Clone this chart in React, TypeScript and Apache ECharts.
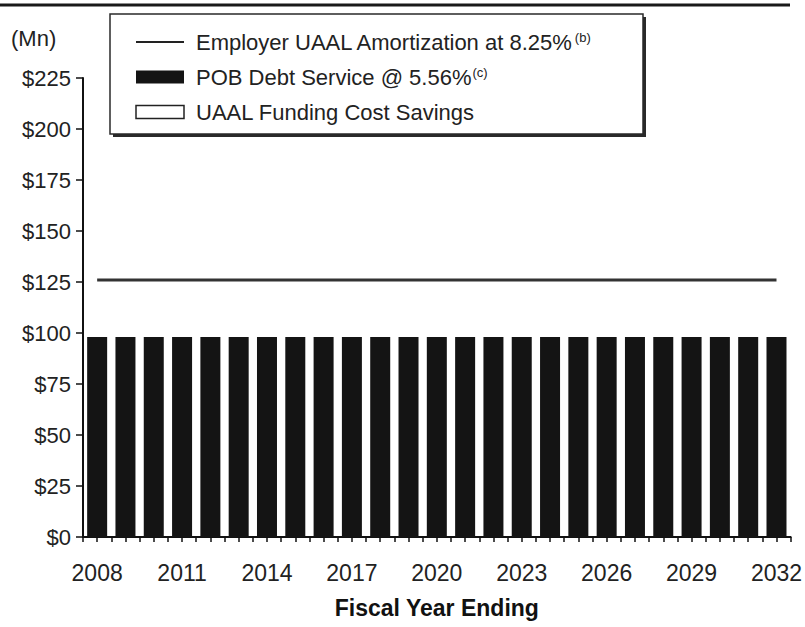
import React, { useEffect, useRef } from "react";
import * as echarts from "echarts";

const years = [
  "2008", "2009", "2010", "2011", "2012", "2013", "2014", "2015", "2016", "2017",
  "2018", "2019", "2020", "2021", "2022", "2023", "2024", "2025", "2026", "2027",
  "2028", "2029", "2030", "2031", "2032",
];

// Employer UAAL Amortization at 8.25% ($Mn)
const employerAmortization = [
  126, 126, 126, 126, 126, 126, 126, 126, 126, 126,
  126, 126, 126, 126, 126, 126, 126, 126, 126, 126,
  126, 126, 126, 126, 126,
];

// POB Debt Service @ 5.56% ($Mn)
const pobDebtService = [
  98, 98, 98, 98, 98, 98, 98, 98, 98, 98,
  98, 98, 98, 98, 98, 98, 98, 98, 98, 98,
  98, 98, 98, 98, 98,
];

// UAAL Funding Cost Savings ($Mn), stacked on top of debt service
const fundingSavings = [
  28, 28, 28, 28, 28, 28, 28, 28, 28, 28,
  28, 28, 28, 28, 28, 28, 28, 28, 28, 28,
  28, 28, 28, 28, 28,
];

const yTicks = [0, 25, 50, 75, 100, 125, 150, 175, 200, 225];

const NAME_LINE = "Employer UAAL Amortization at 8.25%";
const NAME_POB = "POB Debt Service @ 5.56%";
const NAME_SAV = "UAAL Funding Cost Savings";

const FONT = "'Liberation Sans', Arial, sans-serif";

export default function App() {
  const ref = useRef<HTMLDivElement>(null);

  useEffect(() => {
    document.body.style.margin = "0";
    if (!ref.current) return;
    const chart = echarts.init(ref.current, null, { renderer: "svg" });

    const option: any = {
      animation: false,
      backgroundColor: "#ffffff",
      textStyle: { fontFamily: FONT },
      grid: { left: 83, right: 10.5, top: 78, bottom: 90, containLabel: false },
      legend: {
        orient: "vertical",
        left: 135,
        top: 31,
        padding: 0,
        itemGap: 13,
        itemWidth: 48,
        itemHeight: 13,
        data: [
          {
            name: NAME_LINE,
            itemStyle: { color: "rgba(0,0,0,0)", borderWidth: 0, opacity: 0 },
            lineStyle: { color: "#222", width: 2 },
          },
          { name: NAME_POB, icon: "rect", itemStyle: { color: "#141414" } },
          {
            name: NAME_SAV,
            icon: "rect",
            itemStyle: { color: "#ffffff", borderColor: "#222", borderWidth: 1.5 },
          },
        ],
        formatter: (name: string) => {
          if (name === NAME_LINE) return `{a|${name}}{s|(b)}`;
          if (name === NAME_POB) return `{a|${name}}{s|(c)}`;
          return `{a|${name}}`;
        },
        textStyle: {
          padding: [0, 0, 0, 7],
          rich: {
            a: { fontSize: 22, lineHeight: 22, color: "#222", fontFamily: FONT },
            s: {
              fontSize: 13,
              lineHeight: 22,
              verticalAlign: "top",
              color: "#222",
              fontFamily: FONT,
              padding: [0, 0, 9, 1],
            },
          },
        },
      },
      xAxis: [
        {
          type: "category",
          data: years,
          boundaryGap: true,
          position: "bottom",
          axisLine: { show: true, lineStyle: { color: "#111", width: 2 } },
          axisTick: { show: true, interval: 0, length: 5, lineStyle: { color: "#111", width: 1.5 } },
          axisLabel: {
            interval: 2,
            margin: 24,
            fontSize: 23,
            color: "#222",
            fontFamily: FONT,
          },
          name: "Fiscal Year Ending",
          nameLocation: "middle",
          nameGap: 59,
          nameTextStyle: { fontSize: 23, fontWeight: "bold", color: "#111", fontFamily: FONT },
        },
        {
          type: "category",
          data: years,
          boundaryGap: true,
          position: "bottom",
          axisLine: { show: false },
          axisTick: { show: true, alignWithLabel: true, interval: 0, length: 5, lineStyle: { color: "#111", width: 1.5 } },
          axisLabel: { show: false },
        },
      ],
      yAxis: {
        type: "value",
        min: 0,
        max: 225,
        interval: 25,
        axisLine: { show: true, lineStyle: { color: "#111", width: 2 } },
        axisTick: { show: true, length: 7, lineStyle: { color: "#111", width: 1.5 } },
        splitLine: { show: false },
        axisLabel: {
          margin: 12,
          fontSize: 22,
          color: "#222",
          fontFamily: FONT,
          formatter: (v: number) => (yTicks.includes(v) ? `$${v}` : ""),
        },
      },
      graphic: [
        {
          type: "line",
          shape: { x1: 0, y1: 5, x2: 790, y2: 5 },
          style: { stroke: "#1a1a1a", lineWidth: 3 },
          z: 0,
        },
        {
          type: "text",
          left: 11,
          top: 27,
          style: { text: "(Mn)", fontSize: 22, fill: "#222", fontFamily: FONT },
        },
        {
          type: "rect",
          shape: { x: 113, y: 17, width: 533, height: 120 },
          style: { fill: "#2a2a2a" },
          z: 0,
        },
        {
          type: "rect",
          shape: { x: 110, y: 14, width: 533, height: 120 },
          style: { fill: "#ffffff", stroke: "#2a2a2a", lineWidth: 1.5 },
          z: 1,
        },
      ],
      series: [
        {
          name: NAME_POB,
          type: "bar",
          stack: "total",
          barWidth: 20,
          data: pobDebtService,
          itemStyle: { color: "#141414" },
        },
        {
          name: NAME_SAV,
          type: "bar",
          stack: "total",
          barWidth: 20,
          data: fundingSavings,
          itemStyle: { color: "#ffffff" },
        },
        {
          name: NAME_LINE,
          type: "line",
          data: employerAmortization,
          symbol: "none",
          lineStyle: { color: "#333", width: 3 },
          itemStyle: { color: "#333" },
          z: 3,
        },
      ],
    };

    chart.setOption(option);
    return () => chart.dispose();
  }, []);

  return <div ref={ref} style={{ width: 805, height: 627 }} />;
}
